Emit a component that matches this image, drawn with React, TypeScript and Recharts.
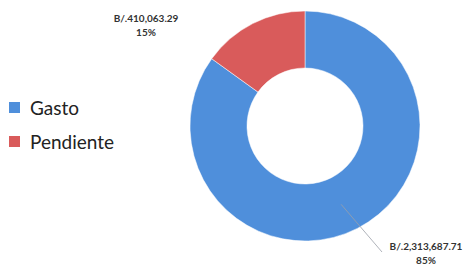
import React from "react";
import { PieChart, Pie, Cell } from "recharts";

const categories = ["Gasto", "Pendiente"];
const values = [2313687.71, 410063.29];
const valueLabels = ["B/.2,313,687.71", "B/.410,063.29"];
const percentLabels = ["85%", "15%"];
const colors = ["#4f8fdb", "#d95b5b"];

const data = categories.map((name, i) => ({
  name,
  value: values[i],
  valueLabel: valueLabels[i],
  pct: percentLabels[i],
}));

const RAD = Math.PI / 180;

const renderLabel = (props: any) => {
  const { cx, cy, midAngle, innerRadius, outerRadius, index } = props;
  const font = { fontFamily: "Lato, 'Open Sans', sans-serif", fontSize: 10, fontWeight: 700, fill: "#333" };
  if (index === 0) {
    const r = (innerRadius + outerRadius) / 2 + 6;
    const sx = cx + r * Math.cos(-midAngle * RAD) - 6;
    const sy = cy + r * Math.sin(-midAngle * RAD) - 4;
    const ex = cx + 77;
    const ey = cy + 126;
    return (
      <g>
        <path d={`M${sx},${sy}L${ex},${ey}`} stroke="#9aa0a8" strokeWidth={0.8} fill="none" />
        <text x={cx + 121} y={cy + 124} textAnchor="middle" {...font}>{data[0].valueLabel}</text>
        <text x={cx + 121} y={cy + 138} textAnchor="middle" {...font}>{data[0].pct}</text>
      </g>
    );
  }
  return (
    <g>
      <text x={cx - 159} y={cy - 104} textAnchor="middle" {...font}>{data[1].valueLabel}</text>
      <text x={cx - 159} y={cy - 90} textAnchor="middle" {...font}>{data[1].pct}</text>
    </g>
  );
};

export default function App() {
  return (
    <div style={{ position: "absolute", left: 0, top: 0, width: 463, height: 266, background: "#fff" }}>
      <PieChart width={463} height={266}>
        <Pie
          data={data}
          dataKey="value"
          nameKey="name"
          cx={300}
          cy={121}
          innerRadius={58}
          outerRadius={115}
          startAngle={90}
          endAngle={-270}
          stroke="#ffffff"
          strokeWidth={0.5}
          label={renderLabel}
          labelLine={false}
          isAnimationActive={false}
        >
          {data.map((d, i) => (
            <Cell key={d.name} fill={colors[i]} />
          ))}
        </Pie>
      </PieChart>
      <div style={{ position: "absolute", left: 9, top: 90, fontFamily: "Lato, 'Open Sans', sans-serif", fontSize: 19, color: "#222" }}>
        {categories.map((c, i) => (
          <div key={c} style={{ display: "flex", alignItems: "center", height: 34 }}>
            <span style={{ display: "inline-block", width: 11, height: 11, background: colors[i], marginRight: 10 }} />
            <span>{c}</span>
          </div>
        ))}
      </div>
    </div>
  );
}
